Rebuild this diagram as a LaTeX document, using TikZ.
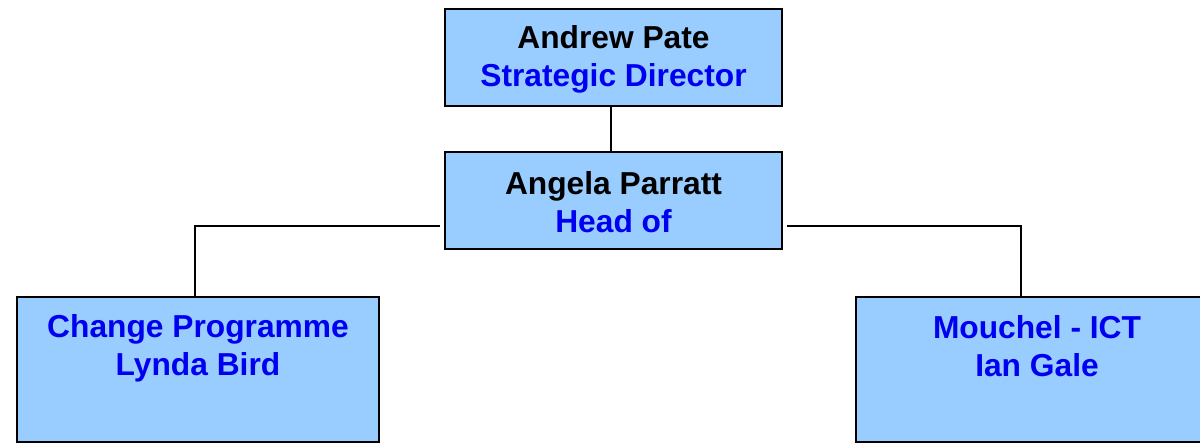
\documentclass[tikz,border=0pt]{standalone}
\usepackage{fontspec}
\setmainfont{Liberation Sans}
\usetikzlibrary{calc}
\definecolor{boxfill}{HTML}{99CCFF}
\definecolor{titleblue}{RGB}{0,0,240}
\begin{document}
\begin{tikzpicture}[x=0.75pt,y=-0.75pt,
  box/.style={draw=black, line width=1.5pt, fill=boxfill, inner sep=0pt},
  wide box/.style={box, minimum width=252.75pt, minimum height=72.75pt},
  unit box/.style={box, minimum width=271.5pt, minimum height=108.75pt},
  name text/.style={align=center, inner sep=0pt,
    font=\fontsize{23.8}{28.5}\selectfont\bfseries},
  link/.style={draw=black, line width=1.5pt}]
\useasboundingbox (0,0) rectangle (1200,445);
\clip (0,0) rectangle (1200,445);

% management chain
\node[wide box] (ap) at (613.5,57.5) {};
\node[name text] (apt) at ($(ap.center)+(0,1.5)$)
  {Andrew Pate\\\textcolor{titleblue}{Strategic Director}};
\node[wide box] (pa) at (613.5,201) {};
\node[name text] (pat) at ($(pa.center)+(0,1.5)$)
  {Angela Parratt\\\textcolor{titleblue}{Head of}};

% reporting units
\node[unit box] (cp) at (198,369.5) {};
\node[name text, text=titleblue] (cpt) at ($(cp.center)+(0,-21)$)
  {Change Programme\\Lynda Bird};
\node[unit box] (mi) at (1037,369.5) {};
\node[name text, text=titleblue] (mit) at ($(mi.center)+(0,-23)$)
  {Mouchel - ICT\\Ian Gale};

% connectors
\coordinate (lj) at ($(pa.west)+(-4,25)$);
\coordinate (rj) at ($(pa.east)+(4,25)$);
\draw[link] ($(ap.south)+(-2.5,0)$) -- ($(pa.north)+(-2.5,0)$);
\draw[link] (lj) -| ($(cp.north)+(-3,0)$);
\draw[link] (rj) -| ($(mi.north)+(-16,0)$);
\end{tikzpicture}
\end{document}
